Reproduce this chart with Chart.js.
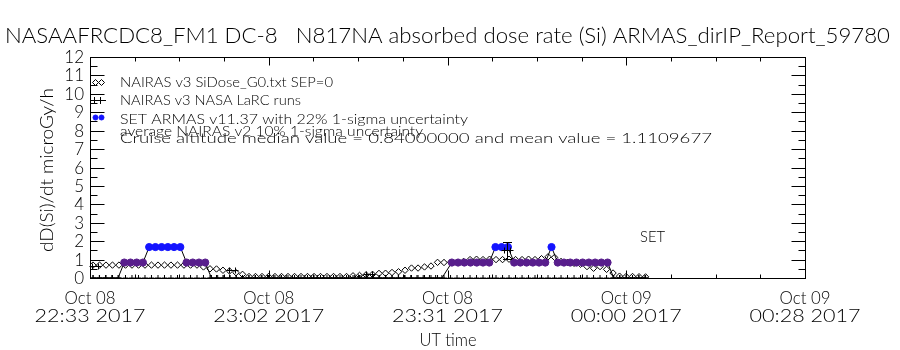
<!DOCTYPE html>
<html><head><meta charset="utf-8">
<script src="https://cdn.jsdelivr.net/npm/chart.js@4.4.0/dist/chart.umd.min.js"></script>
<style>html,body{margin:0;padding:0;background:#fff}#wrap{width:900px;height:350px}</style>
</head><body><div id="wrap"><canvas id="c" width="900" height="350"></canvas></div>
<script>
// ---------------- data (time = minutes after 22:33:54 UT, 8 Oct 2017) ----------------
const titleText = "NASAAFRCDC8_FM1 DC-8   N817NA absorbed dose rate (Si) ARMAS_dirIP_Report_59780";
const yAxisTitle = "dD(Si)/dt microGy/h";
const xAxisTitle = "UT time";
const xTickValues = [0, 28.7, 57.4, 86.1, 114.8];
const xTickDates = ["Oct 08", "Oct 08", "Oct 08", "Oct 09", "Oct 09"];
const xTickTimes = ["22:33 2017", "23:02 2017", "23:31 2017", "00:00 2017", "00:28 2017"];
const yTickValues = [0,1,2,3,4,5,6,7,8,9,10,11,12];
const legendTexts = [
  "NAIRAS v3 SiDose_G0.txt SEP=0",
  "NAIRAS v3 NASA LaRC runs",
  "SET ARMAS v11.37 with 22% 1-sigma uncertainty",
  "average NAIRAS v2 10% 1-sigma uncertainty",
  "Cruise altitude median value = 0.84000000 and mean value = 1.1109677"
];
const setLabel = "SET";

// ARMAS measured dose rate
const armasTime = [
  0.5,1.5,2.5,3.5,4.5,5.5,6.5,7.5,8.5,9.5,10.5,11.5,12.5,13.5,14.5,15.5,16.5,17.5,18.5,
  19.5,20.5,21.5,22.5,23.5,24.5,25.5,26.5,27.5,28.5,29.5,30.5,31.5,32.5,33.5,34.5,35.5,36.5,37.5,38.5,
  39.5,40.5,41.5,42.5,43.5,44.5,45.5,46.5,47.5,48.5,49.5,50.5,51.5,52.5,53.5,54.5,55.5,56.5,
  58.1,59.1,60.1,61.1,62.1,63.1,64.1,65.1,66.1,67.1,68.1,69.1,70.1,71.1,72.1,73.1,74.1,75.1,76.1,77.1,
  78.1,79.1,80.1,81.1,82.1,83.1,84.1,85.1,86.1,87.1,88.1,89.1
];
const armasDose = [
  0,0,0,0,0,0.84,0.84,0.84,0.84,1.68,1.68,1.68,1.68,1.68,1.68,0.84,0.84,0.84,0.84,
  0,0,0,0,0,0,0,0,0,0,0,0,0,0,0,0,0,0,0,0,
  0,0,0,0,0,0,0,0,0,0,0,0,0,0,0,0,0,0,
  0.84,0.84,0.84,0.84,0.84,0.84,0.84,1.68,1.68,1.68,0.84,0.84,0.84,0.84,0.84,0.84,1.68,0.84,0.84,0.84,
  0.84,0.84,0.84,0.84,0.84,0.84,0,0,0,0,0,0
];

// NAIRAS v3 SiDose model
const nairasTime = [
  0.48,1.53,2.57,3.61,4.65,5.70,6.74,7.79,8.83,9.87,10.92,11.96,13.00,14.05,15.09,16.14,17.18,18.22,
  19.27,20.31,21.35,22.40,23.44,24.49,25.53,26.57,27.62,28.66,29.70,30.75,31.79,32.84,33.88,34.92,
  35.97,37.01,38.05,39.10,40.14,41.19,42.23,43.27,44.32,45.36,46.40,47.45,48.49,49.54,50.58,51.62,
  52.67,53.71,54.75,55.80,56.84,57.89,58.93,59.97,61.02,62.06,63.10,64.15,65.19,66.24,67.28,68.32,
  69.37,70.41,71.45,72.50,73.54,74.59,75.63,76.67,77.72,78.76,79.80,80.85,81.89,82.94,83.98,85.02,
  86.07,87.11,88.15,89.20
];
const nairasDose = [
  0.7,0.7,0.7,0.7,0.7,0.7,0.7,0.7,0.7,0.7,0.7,0.7,0.7,0.7,0.7,0.7,0.7,0.6,
  0.5,0.49,0.42,0.38,0.29,0.2,0.08,0.08,0.08,0.08,0.08,0.08,0.08,0.08,0.08,0.08,
  0.08,0.08,0.08,0.08,0.08,0.08,0.12,0.14,0.17,0.2,0.25,0.26,0.3,0.34,0.42,0.54,
  0.54,0.6,0.65,0.85,0.84,0.85,0.85,0.9,1.0,1.02,1.0,1.02,1.0,1.0,1.02,1.0,
  1.0,1.02,1.0,1.05,1.15,1.12,0.9,0.85,0.8,0.75,0.62,0.53,0.62,0.47,0.27,0.1,
  0.08,0.08,0.07,0.06
];
const groundDose = 0;

// NAIRAS v3 NASA LaRC runs
const larcTime = [0.8, 22.8, 44.8, 67.0];
const larcDose = [0.65, 0.41, 0.2, 1.5];
const larcErr  = [0.03, 0.03, 0.03, 0.48];

// ---------------- drawing ----------------
const FONT = 'Lato, "DejaVu Sans", sans-serif';
const BLUE = 'rgb(20,20,255)';
const PURPLE = 'rgb(88,30,140)';

function txt(ctx, s, x, y, size, opt) {
  opt = opt || {};
  ctx.save();
  ctx.font = `300 ${size}px ${FONT}`;
  const mw = ctx.measureText(s).width;
  const sx = opt.w ? opt.w / mw : (opt.sx || 1);
  ctx.translate(x, y);
  if (opt.rot) ctx.rotate(opt.rot);
  ctx.scale(sx, 1);
  ctx.textAlign = opt.align || 'left';
  ctx.textBaseline = 'alphabetic';
  ctx.fillStyle = opt.color || '#000';
  ctx.fillText(s, 0, 0);
  ctx.restore();
}
function seg(ctx, x1, y1, x2, y2) { ctx.beginPath(); ctx.moveTo(x1, y1); ctx.lineTo(x2, y2); ctx.stroke(); }

const idlFrame = {
  id: 'idlFrame',
  afterDatasetsDraw(chart) {
    const { ctx, scales: { x, y } } = chart;
    ctx.save();
    ctx.strokeStyle = '#000'; ctx.lineWidth = 1;
    larcTime.forEach((t, i) => {
      const cx = Math.round(x.getPixelForValue(t)) + 0.5;
      const cy = Math.round(y.getPixelForValue(larcDose[i])) + 0.5;
      seg(ctx, cx - 6, cy, cx + 6, cy);
      seg(ctx, cx - 3, cy - 3, cx - 3, cy + 3);
      seg(ctx, cx + 3, cy - 3, cx + 3, cy + 3);
      const e1 = Math.round(y.getPixelForValue(larcDose[i] + larcErr[i])) + 0.5;
      const e0 = Math.round(y.getPixelForValue(larcDose[i] - larcErr[i])) + 0.5;
      if (e0 - e1 > 4) {
        seg(ctx, cx, e1, cx, e0);
        seg(ctx, cx - 4.5, e1, cx + 4.5, e1);
        seg(ctx, cx - 4.5, e0, cx + 4.5, e0);
      }
    });
    ctx.restore();
  },
  afterDraw(chart) {
    const { ctx, chartArea: a, scales: { x, y } } = chart;
    ctx.save();
    ctx.strokeStyle = '#000'; ctx.lineWidth = 1;
    const L = Math.round(a.left) + 0.5, R = Math.round(a.right) + 0.5;
    const T = Math.round(a.top) + 0.5, B = Math.round(a.bottom) + 0.5;
    ctx.strokeRect(L, T, R - L, B - T);
    // y ticks
    yTickValues.forEach((v, i) => {
      const py = Math.round(y.getPixelForValue(v)) + 0.5;
      seg(ctx, L, py, L + 14, py); seg(ctx, R - 14, py, R, py);
      if (i < yTickValues.length - 1) {
        const pm = Math.round(y.getPixelForValue((v + yTickValues[i + 1]) / 2)) + 0.5;
        seg(ctx, L, pm, L + 7, pm); seg(ctx, R - 7, pm, R, pm);
      }
      txt(ctx, String(v), 84, y.getPixelForValue(v) + 6, 17, { sx: 1.0, align: 'right' });
    });
    // x ticks
    xTickValues.forEach((v, i) => {
      const px = Math.round(x.getPixelForValue(v)) + 0.5;
      seg(ctx, px, B, px, B - 8); seg(ctx, px, T, px, T + 8);
      if (i < xTickValues.length - 1) {
        for (let q = 1; q < 4; q++) {
          const pq = Math.round(x.getPixelForValue(v + (xTickValues[i + 1] - v) * q / 4)) + 0.5;
          seg(ctx, pq, B, pq, B - 4); seg(ctx, pq, T, pq, T + 4);
        }
      }
      txt(ctx, xTickDates[i], x.getPixelForValue(v), 304, 17, { w: 51, align: 'center' });
      txt(ctx, xTickTimes[i], x.getPixelForValue(v), 322, 17, { w: 111, align: 'center' });
    });
    // titles
    txt(ctx, titleText, 447.5, 43, 21, { w: 885, align: 'center' });
    txt(ctx, xAxisTitle, 448, 346, 17, { w: 57, align: 'center' });
    txt(ctx, yAxisTitle, 53, 170, 17, { w: 164, align: 'center', rot: -Math.PI / 2 });
    // legend
    const lx = 120;
    const widths = [213, 181, 348, 303, 592];
    const bases = [86.5, 105, 124, 136, 143];
    legendTexts.forEach((s, i) => txt(ctx, s, lx, bases[i], 14, { w: widths[i] }));
    const dp = Chart.helpers.drawPoint;
    ctx.fillStyle = '#fff'; ctx.strokeStyle = '#000';
    dp(ctx, { pointStyle: 'rectRot', radius: 3, borderWidth: 1 }, 95.5, 82.5);
    dp(ctx, { pointStyle: 'rectRot', radius: 3, borderWidth: 1 }, 101.5, 82.5);
    seg(ctx, 91, 100.5, 106, 100.5);
    seg(ctx, 94.5, 97, 94.5, 104); seg(ctx, 100.5, 97, 100.5, 104);
    ctx.fillStyle = BLUE; ctx.strokeStyle = BLUE;
    dp(ctx, { pointStyle: 'circle', radius: 2.5, borderWidth: 1 }, 95.5, 117.5);
    dp(ctx, { pointStyle: 'circle', radius: 2.5, borderWidth: 1 }, 101.5, 117.5);
    txt(ctx, setLabel, 640, 242, 15, { w: 25 });
    ctx.restore();
  }
};

const armasColor = c => { const v = c.raw ? c.raw.y : 0; return v > 1.2 ? BLUE : (v > 0 ? PURPLE : '#000'); };

new Chart(document.getElementById('c'), {
  type: 'scatter',
  data: {
    datasets: [
      {
        label: 'SET ARMAS',
        data: armasTime.map((t, i) => ({ x: t, y: armasDose[i] })),
        showLine: true, borderColor: '#000', borderWidth: 1, tension: 0,
        pointStyle: c => (c.raw && c.raw.y > 0 ? 'circle' : 'cross'),
        pointRadius: c => (c.raw && c.raw.y > 0 ? 3.6 : 3),
        pointBackgroundColor: armasColor, pointBorderColor: armasColor, pointBorderWidth: 1
      },
      {
        label: 'ground',
        data: nairasTime.map(t => ({ x: t, y: groundDose })),
        showLine: false, pointStyle: 'cross', pointRadius: 3,
        pointBorderColor: '#000', pointBorderWidth: 1
      },
      {
        label: 'NAIRAS v3 SiDose',
        data: nairasTime.map((t, i) => ({ x: t, y: nairasDose[i] })),
        showLine: false, pointStyle: 'rectRot', pointRadius: 3.2,
        pointBackgroundColor: '#fff', pointBorderColor: '#000', pointBorderWidth: 1
      }
    ]
  },
  options: {
    responsive: false, animation: false, devicePixelRatio: 1,
    layout: { padding: { left: 90, right: 95, top: 57, bottom: 72 } },
    plugins: { legend: { display: false }, title: { display: false }, tooltip: { enabled: false } },
    scales: {
      x: { type: 'linear', min: xTickValues[0], max: xTickValues[xTickValues.length - 1], display: false },
      y: { type: 'linear', min: yTickValues[0], max: yTickValues[yTickValues.length - 1], display: false }
    }
  },
  plugins: [idlFrame]
});
</script>
</body></html>
